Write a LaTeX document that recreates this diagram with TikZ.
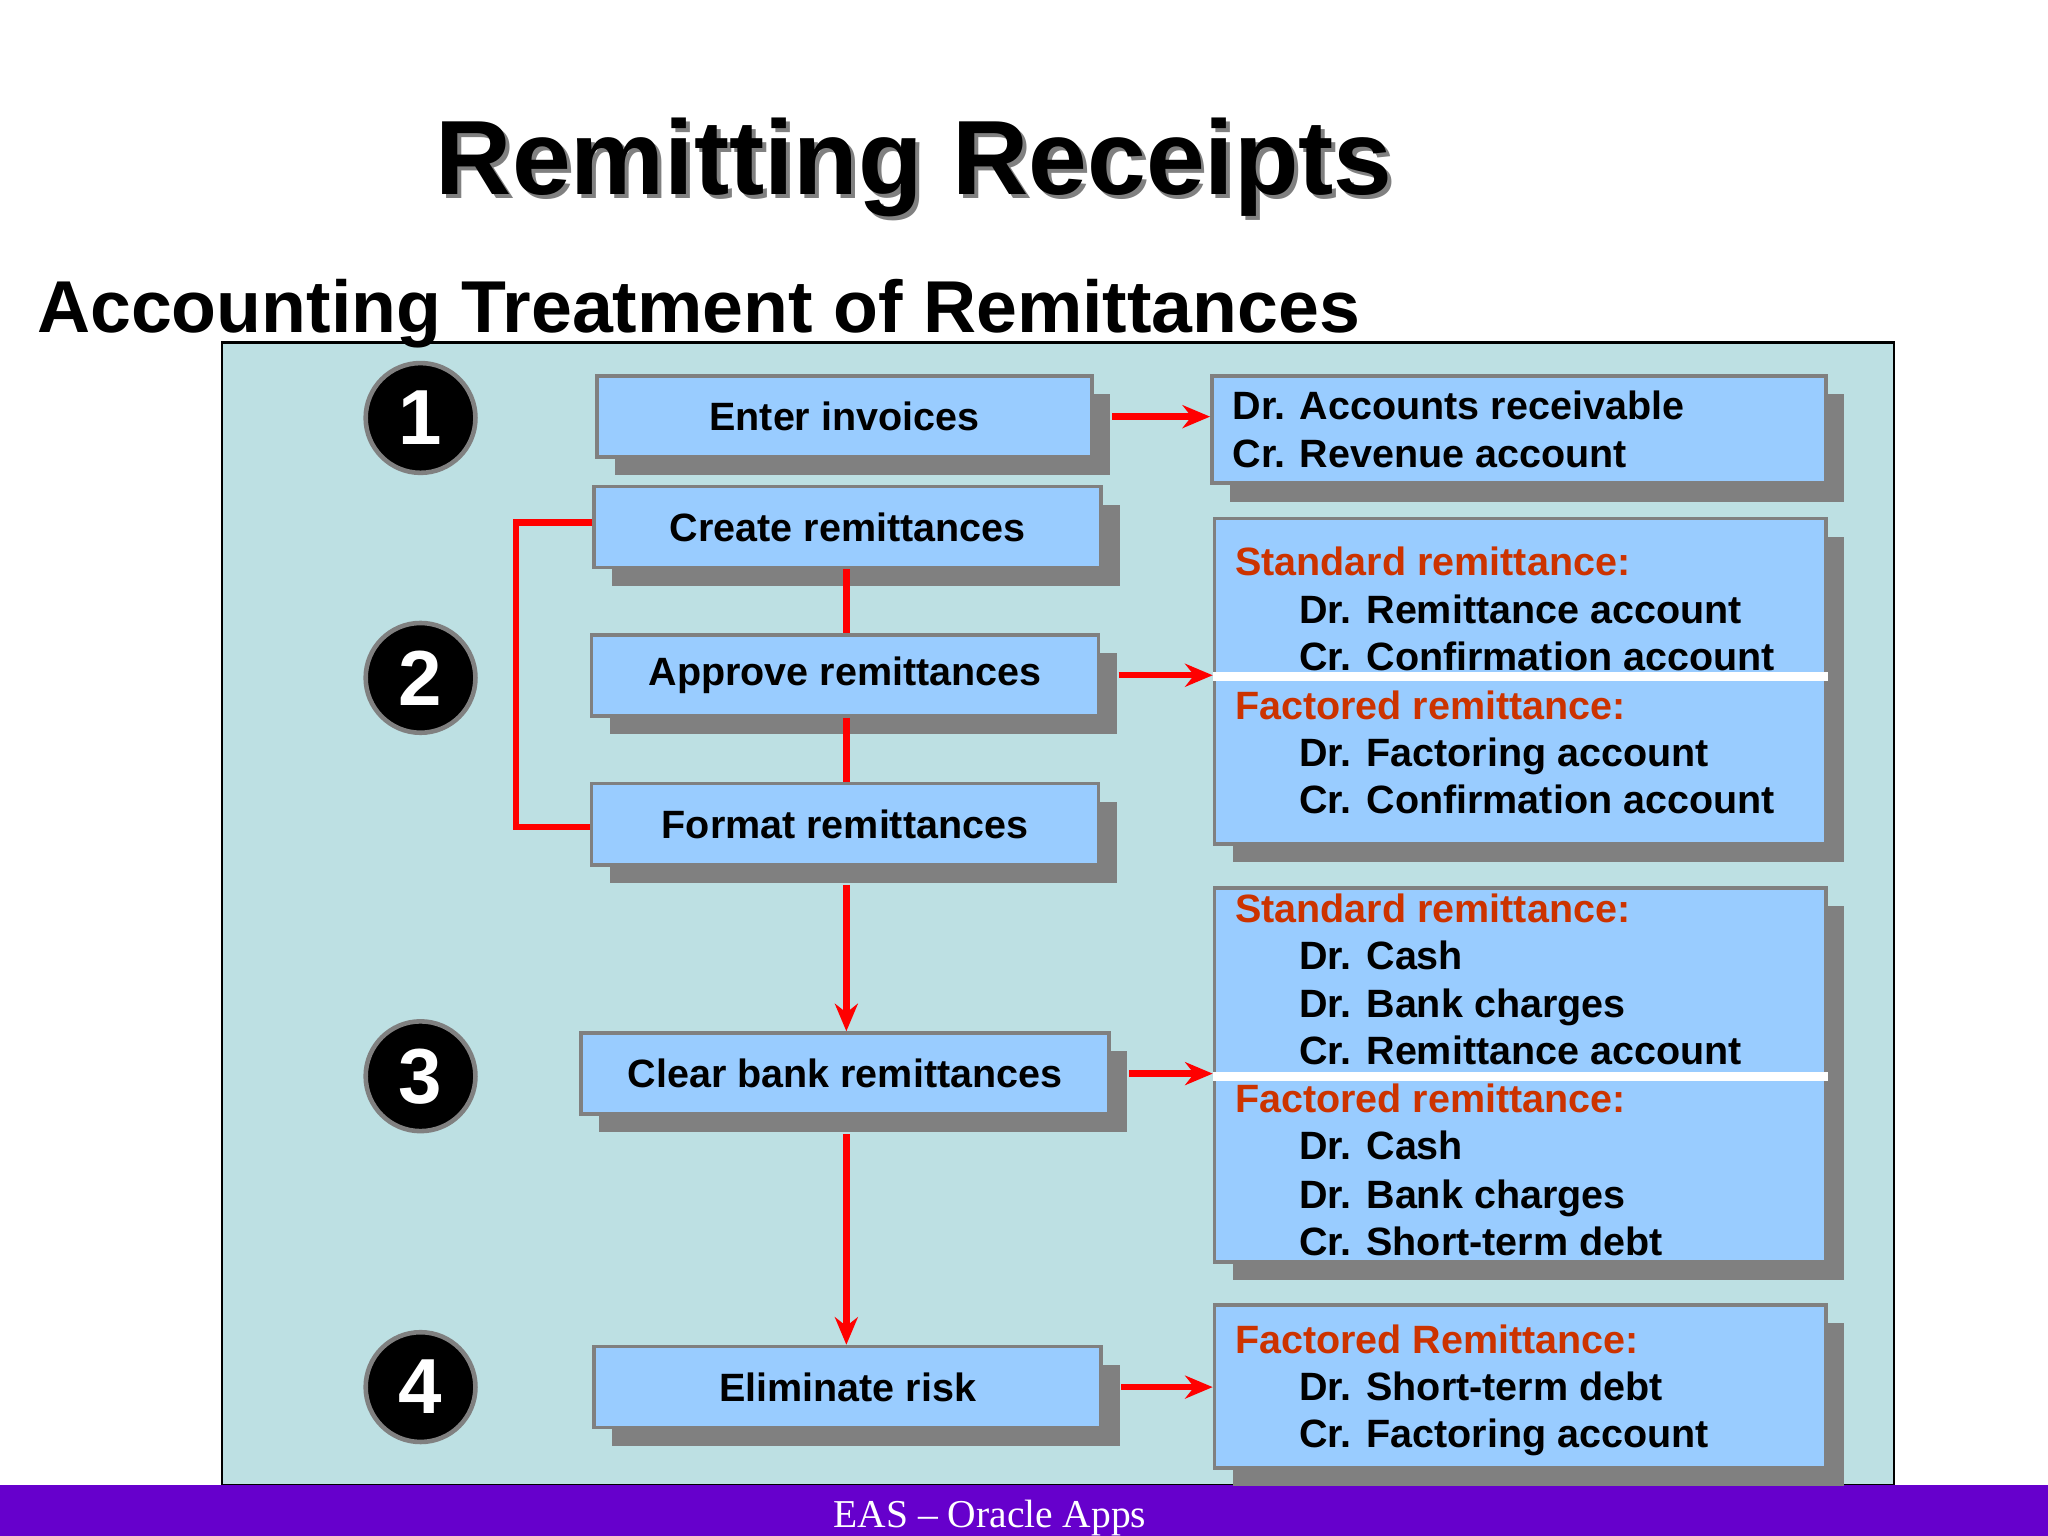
\documentclass[tikz,border=0pt]{standalone}
\usepackage{fontspec}
\setmainfont{Liberation Sans}
\newfontfamily\tms{Liberation Serif}
\usetikzlibrary{shadows,arrows.meta}
\definecolor{panel}{HTML}{BDE0E3}
\definecolor{boxc}{HTML}{99CCFF}
\definecolor{shd}{HTML}{808080}
\definecolor{hd}{HTML}{CC3300}
\definecolor{bar}{HTML}{6600CC}
\begin{document}
\begin{tikzpicture}[x=0.01cm,y=-0.01cm,
  bx/.style={draw=shd,line width=0.8pt,fill=boxc,
    drop shadow={shadow xshift=0.14cm,shadow yshift=-0.14cm,fill=shd,opacity=1}},
  lt/.style={font=\fontsize{8.6}{10}\selectfont\bfseries,inner sep=0pt,anchor=base west},
  ht/.style={lt,text=hd},
  num/.style={circle,fill=black,draw=shd,line width=1pt,minimum size=0.84cm,inner sep=0pt,text=white,font=\fontsize{17}{17}\selectfont\bfseries},
  ar/.style={red,line width=1.4pt,-{Stealth[length=6pt,width=5pt]}},
  ln/.style={red,line width=1.4pt}]
\useasboundingbox (0,0) rectangle (1568,1176);
\fill[white] (0,0) rectangle (1568,1176);
\draw[fill=panel,line width=0.6pt] (170,262) rectangle (1450,1137);
\fill[bar] (0,1137) rectangle (1568,1176);
\node[text=white,font=\tms\fontsize{8.6}{9}\selectfont] (foot) at (758,1162) {EAS \textendash{} Oracle Apps};
\node[font=\fontsize{23}{23}\selectfont\bfseries,text=gray] at (703,131) {Remitting Receipts};
\node[font=\fontsize{23}{23}\selectfont\bfseries] (title) at (700,128) {Remitting Receipts};
\node[font=\fontsize{16}{16}\selectfont\bfseries,anchor=west] (sub) at (16,240) {Accounting Treatment of Remittances};
% numbers
\node[num] (n1) at (322,320) {1};
\node[num] (n2) at (322,519) {2};
\node[num] (n3) at (322,824) {3};
\node[num] (n4) at (322,1062) {4};
% left boxes
\tikzset{lb/.style={bx,minimum height=0.62cm,inner sep=0pt,font=\fontsize{8.6}{10}\selectfont\bfseries}}
\node[lb,minimum width=3.79cm] (ei) at (646.5,319) {\raisebox{-1.5pt}{Enter invoices}};
\node[lb,minimum width=3.88cm] (cr) at (649,403.5) {\raisebox{-1pt}{Create remittances}};
\node[lb,minimum width=3.88cm] (ap) at (647,517) {\raisebox{-1.5pt}{Approve remittances}};
\node[lb,minimum width=3.88cm] (fm) at (647,631) {\raisebox{-1pt}{Format remittances}};
\node[lb,minimum width=4.04cm] (cb) at (647,822) {\raisebox{-1pt}{Clear bank remittances}};
\node[lb,minimum width=3.88cm] (er) at (649,1062) {Eliminate risk};
% right boxes
\node[bx,minimum width=4.70cm,minimum height=0.82cm] (r1) at (1163,329) {};
\node[bx,minimum width=4.68cm,minimum height=2.49cm] (r2) at (1164,521.5) {};
\node[bx,minimum width=4.68cm,minimum height=2.86cm] (r3) at (1164,823) {};
\node[bx,minimum width=4.68cm,minimum height=1.25cm] (r4) at (1164,1061.5) {};
\draw[white,line width=2pt] (r2.west |- 0,518) -- (r2.east |- 0,518);
\draw[white,line width=2pt] (r3.west |- 0,824) -- (r3.east |- 0,824);
% texts
\node[lt] at (943,321) {Dr. Accounts receivable};
\node[lt] at (943,358) {Cr. Revenue account};
\node[ht] at (945,441) {Standard remittance:};
\node[lt] at (994,477) {Dr. Remittance account};
\node[lt] at (994,513) {Cr. Confirmation account};
\node[ht] at (945,551) {Factored remittance:};
\node[lt] at (994,587) {Dr. Factoring account};
\node[lt] at (994,623) {Cr. Confirmation account};
\node[ht] at (945,706) {Standard remittance:};
\node[lt] at (994,742) {Dr. Cash};
\node[lt] at (994,779) {Dr. Bank charges};
\node[lt] at (994,815) {Cr. Remittance account};
\node[ht] at (945,852) {Factored remittance:};
\node[lt] at (994,888) {Dr. Cash};
\node[lt] at (994,925) {Dr. Bank charges};
\node[lt] at (994,961) {Cr. Short-term debt};
\node[ht] at (945,1036) {Factored Remittance:};
\node[lt] at (994,1072) {Dr. Short-term debt};
\node[lt] at (994,1108) {Cr. Factoring account};
% connectors
\draw[ar] ([xshift=0.14cm]ei.east) -- (r1.west |- ei.east);
\draw[ar] ([xshift=0.14cm]ap.east) -- (r2.west |- ap.east);
\draw[ar] ([xshift=0.14cm]cb.east) -- (r3.west |- cb.east);
\draw[ar] ([xshift=0.14cm]er.east) -- (r4.west |- er.east);
\draw[ln] (cr.south -| 648,0) -- (ap.north -| 648,0);
\draw[ln] (ap.south -| 648,0) -- (fm.north -| 648,0);
\draw[ar] ([yshift=-0.14cm]fm.south -| 648,0) -- (cb.north -| 648,0);
\draw[ar] ([yshift=-0.14cm]cb.south -| 648,0) -- (er.north -| 648,0);
\draw[ln] (cr.west |- 0,400) -- (395,400) -- (395,633) -- (fm.west |- 0,633);
\end{tikzpicture}
\end{document}
